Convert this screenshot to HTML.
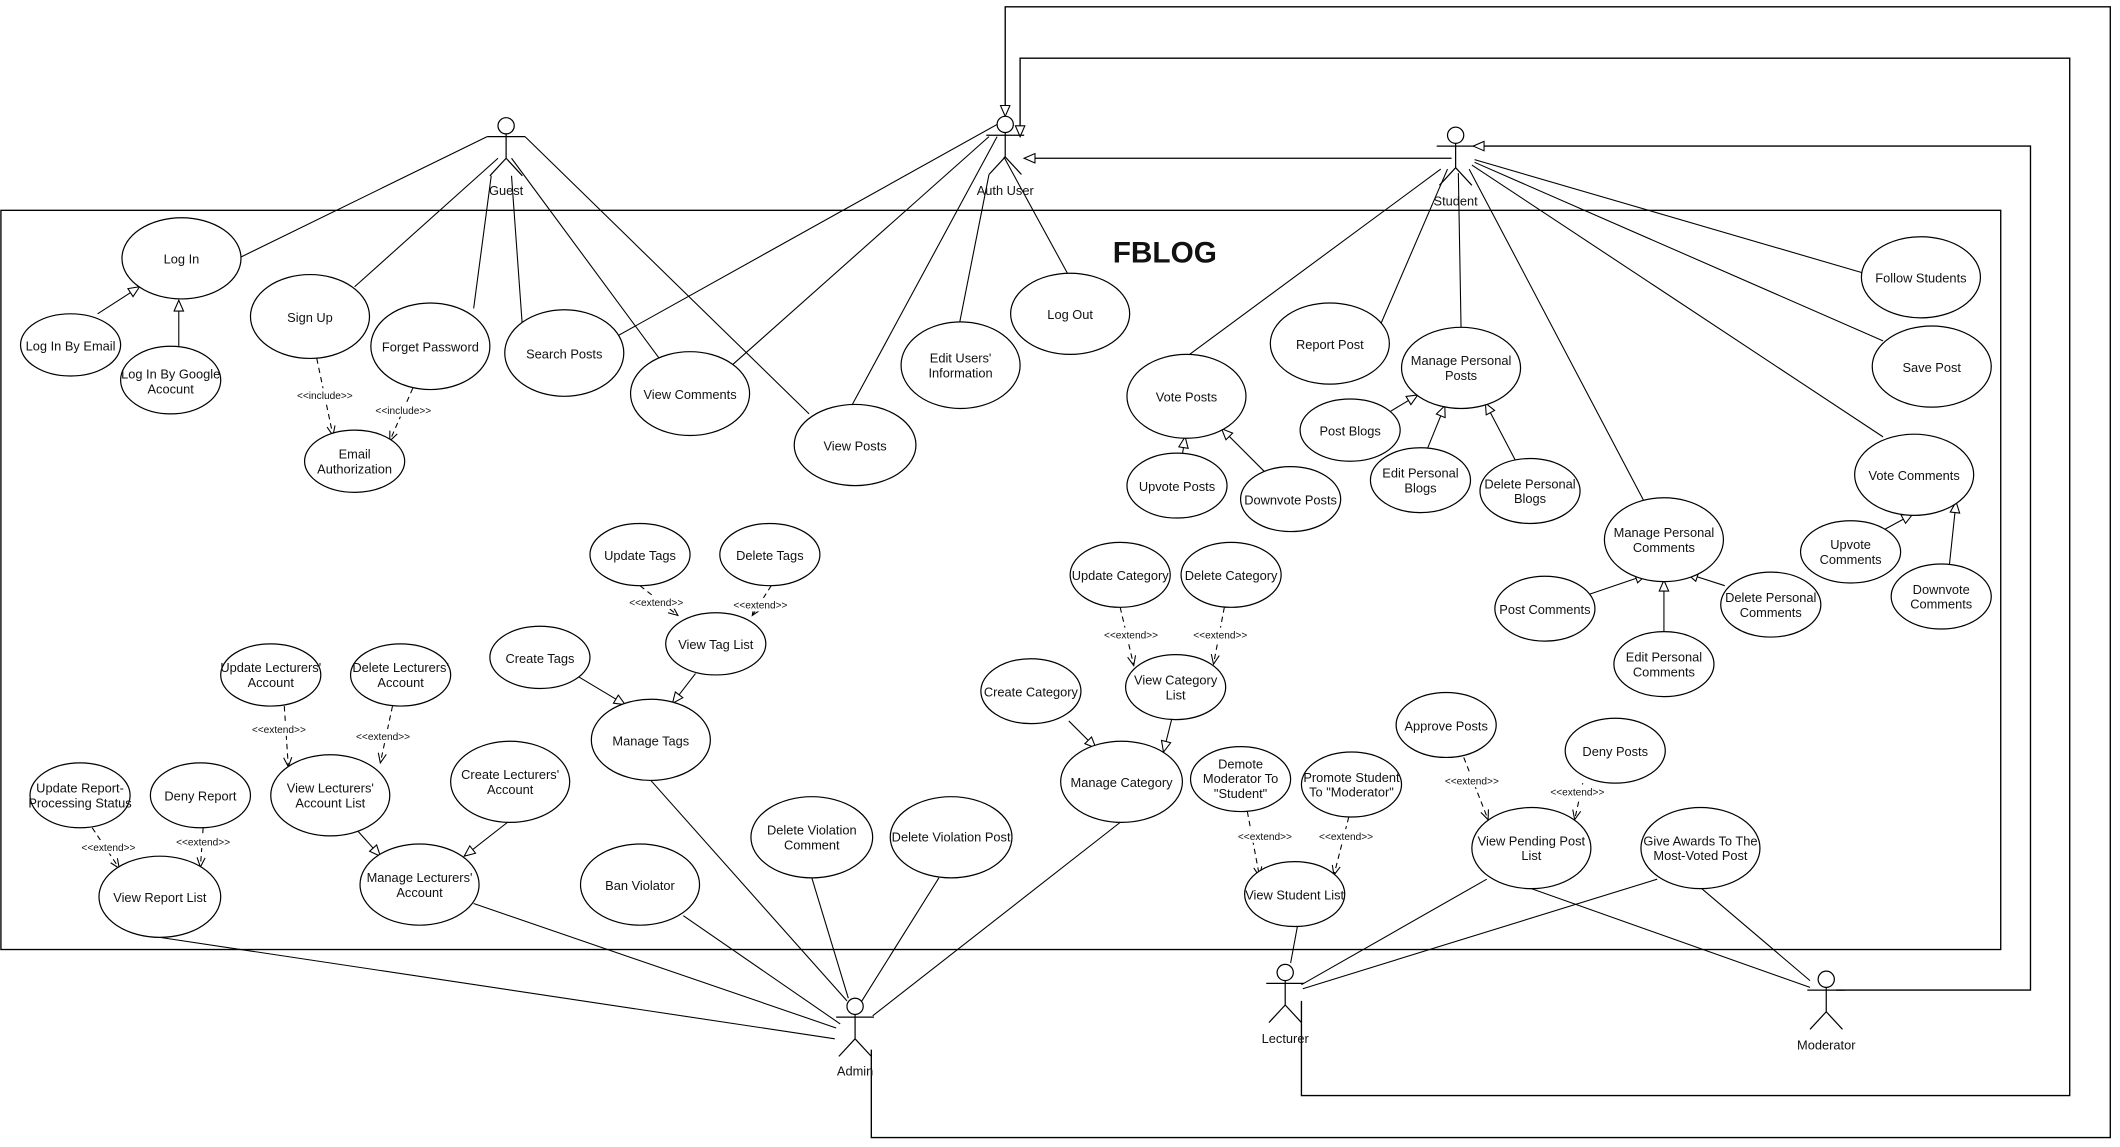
<!DOCTYPE html>
<html><head><meta charset="utf-8"><style>
html,body{margin:0;padding:0;background:#fff;}
svg{display:block;}
text{font-family:"Liberation Sans",sans-serif;font-size:9.5px;fill:#111;text-anchor:middle;}
.s{font-size:7.5px;}
</style></head><body>
<svg width="2120" height="1147" viewBox="0 0 1567 848" xmlns="http://www.w3.org/2000/svg">
<defs>
<marker id="tri" markerWidth="10" markerHeight="10" refX="9" refY="4" orient="auto" markerUnits="userSpaceOnUse"><path d="M1,0.5 L9,4 L1,7.5 Z" fill="#fff" stroke="#000" stroke-width="0.8"/></marker>
<marker id="opn" markerWidth="10" markerHeight="10" refX="8" refY="4" orient="auto" markerUnits="userSpaceOnUse"><path d="M1,1 L8,4 L1,7" fill="none" stroke="#000" stroke-width="0.8"/></marker>
</defs>
<g fill="none" stroke="#000" stroke-width="1">
<rect x="0.5" y="155.5" width="1478.5" height="546.5"/>
<path d="M644,776 V841 H1560 V5 H743 V86" marker-end="url(#tri)"/>
<path d="M962,740 V810 H1530 V43 H754 V101" marker-end="url(#tri)"/>
<path d="M1357,732 H1501 V108 H1089" marker-end="url(#tri)"/>
<path d="M1073,117 H757" marker-end="url(#tri)"/>
</g>
<g fill="none" stroke="#000" stroke-width="0.8">
<line x1="360" y1="101" x2="178" y2="190"/>
<line x1="368" y1="117" x2="262" y2="212"/>
<line x1="363" y1="130" x2="350" y2="228"/>
<line x1="378" y1="130" x2="386" y2="241"/>
<line x1="378" y1="117" x2="488" y2="266"/>
<line x1="388" y1="101" x2="598" y2="306"/>
<line x1="737" y1="92" x2="457" y2="248"/>
<line x1="731" y1="101" x2="541" y2="270"/>
<line x1="737" y1="101" x2="630" y2="299"/>
<line x1="731" y1="129" x2="709" y2="240"/>
<line x1="742" y1="116" x2="789" y2="202"/>
<line x1="1065" y1="125" x2="878" y2="263"/>
<line x1="1070" y1="125" x2="1020" y2="241"/>
<line x1="1078" y1="128" x2="1080" y2="242"/>
<line x1="1086" y1="125" x2="1215" y2="370"/>
<line x1="1088" y1="122" x2="1392" y2="323"/>
<line x1="1090" y1="120" x2="1392" y2="252"/>
<line x1="1090" y1="118" x2="1378" y2="202"/>
<line x1="118" y1="693" x2="617" y2="768"/>
<line x1="350" y1="668" x2="618" y2="760"/>
<line x1="505" y1="677" x2="621" y2="757"/>
<line x1="481" y1="577" x2="626" y2="740"/>
<line x1="600" y1="649" x2="627" y2="738"/>
<line x1="694" y1="649" x2="637" y2="740"/>
<line x1="828" y1="608" x2="645" y2="751"/>
<line x1="959" y1="685" x2="954" y2="712"/>
<line x1="1099" y1="650" x2="962" y2="728"/>
<line x1="1225" y1="650" x2="963" y2="731"/>
<line x1="1132" y1="657" x2="1338" y2="730"/>
<line x1="1258" y1="657" x2="1338" y2="725"/>
<g marker-end="url(#tri)">
<line x1="72" y1="232" x2="103" y2="212"/>
<line x1="132" y1="256" x2="132" y2="222"/>
<line x1="427" y1="500" x2="462" y2="521"/>
<line x1="514" y1="498" x2="497" y2="520"/>
<line x1="264" y1="614" x2="281" y2="633"/>
<line x1="375" y1="608" x2="343" y2="633"/>
<line x1="790" y1="533" x2="810" y2="553"/>
<line x1="866" y1="532" x2="860" y2="556"/>
<line x1="874" y1="336" x2="876" y2="323"/>
<line x1="935" y1="349" x2="903" y2="317"/>
<line x1="1028" y1="304" x2="1048" y2="292"/>
<line x1="1055" y1="332" x2="1068" y2="300"/>
<line x1="1120" y1="340" x2="1098" y2="298"/>
<line x1="1173" y1="440" x2="1217" y2="425"/>
<line x1="1230" y1="467" x2="1230" y2="429"/>
<line x1="1275" y1="433" x2="1247" y2="424"/>
<line x1="1392" y1="392" x2="1414" y2="380"/>
<line x1="1441" y1="418" x2="1446" y2="371"/>
</g>
<g stroke-dasharray="4,3" marker-end="url(#opn)">
<line x1="234" y1="265" x2="246" y2="322"/>
<line x1="305" y1="287" x2="288" y2="326"/>
<line x1="473" y1="433" x2="501" y2="455"/>
<line x1="570" y1="433" x2="556" y2="455"/>
<line x1="210" y1="522" x2="213" y2="567"/>
<line x1="290" y1="522" x2="281" y2="564"/>
<line x1="68" y1="612" x2="88" y2="642"/>
<line x1="150" y1="612" x2="148" y2="641"/>
<line x1="828" y1="449" x2="838" y2="492"/>
<line x1="905" y1="449" x2="897" y2="491"/>
<line x1="922" y1="600" x2="931" y2="648"/>
<line x1="997" y1="604" x2="986" y2="647"/>
<line x1="1082" y1="560" x2="1100" y2="606"/>
<line x1="1170" y1="579" x2="1164" y2="606"/>
</g>
</g>
<g fill="#fff">
<rect x="216" y="287" width="48" height="10"/><rect x="274" y="298" width="48" height="10"/>
<rect x="462" y="440" width="46" height="10"/><rect x="539" y="442" width="46" height="10"/>
<rect x="183" y="534" width="46" height="10"/><rect x="260" y="539" width="46" height="10"/>
<rect x="57" y="621" width="46" height="10"/><rect x="127" y="617" width="46" height="10"/>
<rect x="813" y="464" width="46" height="10"/><rect x="879" y="464" width="46" height="10"/>
<rect x="912" y="613" width="46" height="10"/><rect x="972" y="613" width="46" height="10"/>
<rect x="1065" y="572" width="46" height="10"/><rect x="1143" y="580" width="46" height="10"/>
</g>
<g class="s">
<text class="s" x="240" y="295">&lt;&lt;include&gt;&gt;</text>
<text class="s" x="298" y="306">&lt;&lt;include&gt;&gt;</text>
<text class="s" x="485" y="448">&lt;&lt;extend&gt;&gt;</text>
<text class="s" x="562" y="450">&lt;&lt;extend&gt;&gt;</text>
<text class="s" x="206" y="542">&lt;&lt;extend&gt;&gt;</text>
<text class="s" x="283" y="547">&lt;&lt;extend&gt;&gt;</text>
<text class="s" x="80" y="629">&lt;&lt;extend&gt;&gt;</text>
<text class="s" x="150" y="625">&lt;&lt;extend&gt;&gt;</text>
<text class="s" x="836" y="472">&lt;&lt;extend&gt;&gt;</text>
<text class="s" x="902" y="472">&lt;&lt;extend&gt;&gt;</text>
<text class="s" x="935" y="621">&lt;&lt;extend&gt;&gt;</text>
<text class="s" x="995" y="621">&lt;&lt;extend&gt;&gt;</text>
<text class="s" x="1088" y="580">&lt;&lt;extend&gt;&gt;</text>
<text class="s" x="1166" y="588">&lt;&lt;extend&gt;&gt;</text>
</g>
<g fill="#fff" stroke="#000" stroke-width="0.9">
<ellipse cx="134" cy="191" rx="44" ry="30"/>
<ellipse cx="52" cy="255" rx="37" ry="23"/>
<ellipse cx="126" cy="281" rx="37" ry="25"/>
<ellipse cx="229" cy="234" rx="44" ry="31"/>
<ellipse cx="318" cy="256" rx="44" ry="32"/>
<ellipse cx="262" cy="341" rx="37" ry="23"/>
<ellipse cx="417" cy="261" rx="44" ry="32"/>
<ellipse cx="510" cy="291" rx="44" ry="31"/>
<ellipse cx="632" cy="329" rx="45" ry="30"/>
<ellipse cx="710" cy="270" rx="44" ry="32"/>
<ellipse cx="791" cy="232" rx="44" ry="30"/>
<ellipse cx="877" cy="293" rx="44" ry="31"/>
<ellipse cx="870" cy="359" rx="37" ry="24"/>
<ellipse cx="954" cy="369" rx="37" ry="24"/>
<ellipse cx="983" cy="254" rx="44" ry="30"/>
<ellipse cx="1080" cy="272" rx="44" ry="30"/>
<ellipse cx="998" cy="318" rx="37" ry="23"/>
<ellipse cx="1050" cy="355" rx="37" ry="24"/>
<ellipse cx="1131" cy="363" rx="37" ry="24"/>
<ellipse cx="1230" cy="399" rx="44" ry="31"/>
<ellipse cx="1142" cy="450" rx="37" ry="24"/>
<ellipse cx="1230" cy="491" rx="37" ry="24"/>
<ellipse cx="1309" cy="447" rx="37" ry="24"/>
<ellipse cx="1420" cy="205" rx="44" ry="30"/>
<ellipse cx="1428" cy="271" rx="44" ry="30"/>
<ellipse cx="1415" cy="351" rx="44" ry="30"/>
<ellipse cx="1368" cy="408" rx="37" ry="23"/>
<ellipse cx="1435" cy="441" rx="37" ry="24"/>
<ellipse cx="473" cy="410" rx="37" ry="23"/>
<ellipse cx="569" cy="410" rx="37" ry="23"/>
<ellipse cx="529" cy="476" rx="37" ry="23"/>
<ellipse cx="399" cy="486" rx="37" ry="23"/>
<ellipse cx="481" cy="547" rx="44" ry="30"/>
<ellipse cx="200" cy="499" rx="37" ry="23"/>
<ellipse cx="296" cy="499" rx="37" ry="23"/>
<ellipse cx="244" cy="588" rx="44" ry="30"/>
<ellipse cx="377" cy="578" rx="44" ry="30"/>
<ellipse cx="310" cy="654" rx="44" ry="30"/>
<ellipse cx="59" cy="588" rx="37" ry="24"/>
<ellipse cx="148" cy="588" rx="37" ry="24"/>
<ellipse cx="118" cy="663" rx="45" ry="30"/>
<ellipse cx="473" cy="654" rx="44" ry="30"/>
<ellipse cx="600" cy="619" rx="45" ry="30"/>
<ellipse cx="703" cy="619" rx="45" ry="30"/>
<ellipse cx="828" cy="425" rx="37" ry="24"/>
<ellipse cx="910" cy="425" rx="37" ry="24"/>
<ellipse cx="869" cy="508" rx="37" ry="24"/>
<ellipse cx="762" cy="511" rx="37" ry="24"/>
<ellipse cx="829" cy="578" rx="45" ry="30"/>
<ellipse cx="917" cy="576" rx="37" ry="24"/>
<ellipse cx="999" cy="580" rx="37" ry="24"/>
<ellipse cx="957" cy="661" rx="37" ry="24"/>
<ellipse cx="1069" cy="536" rx="37" ry="24"/>
<ellipse cx="1194" cy="555" rx="37" ry="24"/>
<ellipse cx="1132" cy="627" rx="44" ry="30"/>
<ellipse cx="1257" cy="627" rx="44" ry="30"/>
</g>
<g>
<text x="134" y="195">Log In</text>
<text x="52" y="259">Log In By Email</text>
<text x="126" y="280">Log In By Google</text><text x="126" y="291">Acocunt</text>
<text x="229" y="238">Sign Up</text>
<text x="318" y="260">Forget Password</text>
<text x="262" y="339">Email</text><text x="262" y="350">Authorization</text>
<text x="417" y="265">Search Posts</text>
<text x="510" y="295">View Comments</text>
<text x="632" y="333">View Posts</text>
<text x="710" y="268">Edit Users'</text><text x="710" y="279">Information</text>
<text x="791" y="236">Log Out</text>
<text x="877" y="297">Vote Posts</text>
<text x="870" y="363">Upvote Posts</text>
<text x="954" y="373">Downvote Posts</text>
<text x="983" y="258">Report Post</text>
<text x="1080" y="270">Manage Personal</text><text x="1080" y="281">Posts</text>
<text x="998" y="322">Post Blogs</text>
<text x="1050" y="353">Edit Personal</text><text x="1050" y="364">Blogs</text>
<text x="1131" y="361">Delete Personal</text><text x="1131" y="372">Blogs</text>
<text x="1230" y="397">Manage Personal</text><text x="1230" y="408">Comments</text>
<text x="1142" y="454">Post Comments</text>
<text x="1230" y="489">Edit Personal</text><text x="1230" y="500">Comments</text>
<text x="1309" y="445">Delete Personal</text><text x="1309" y="456">Comments</text>
<text x="1420" y="209">Follow Students</text>
<text x="1428" y="275">Save Post</text>
<text x="1415" y="355">Vote Comments</text>
<text x="1368" y="406">Upvote</text><text x="1368" y="417">Comments</text>
<text x="1435" y="439">Downvote</text><text x="1435" y="450">Comments</text>
<text x="473" y="414">Update Tags</text>
<text x="569" y="414">Delete Tags</text>
<text x="529" y="480">View Tag List</text>
<text x="399" y="490">Create Tags</text>
<text x="481" y="551">Manage Tags</text>
<text x="200" y="497">Update Lecturers'</text><text x="200" y="508">Account</text>
<text x="296" y="497">Delete Lecturers'</text><text x="296" y="508">Account</text>
<text x="244" y="586">View Lecturers'</text><text x="244" y="597">Account List</text>
<text x="377" y="576">Create Lecturers'</text><text x="377" y="587">Account</text>
<text x="310" y="652">Manage Lecturers'</text><text x="310" y="663">Account</text>
<text x="59" y="586">Update Report-</text><text x="59" y="597">Processing Status</text>
<text x="148" y="592">Deny Report</text>
<text x="118" y="667">View Report List</text>
<text x="473" y="658">Ban Violator</text>
<text x="600" y="617">Delete Violation</text><text x="600" y="628">Comment</text>
<text x="703" y="622">Delete Violation Post</text>
<text x="828" y="429">Update Category</text>
<text x="910" y="429">Delete Category</text>
<text x="869" y="506">View Category</text><text x="869" y="517">List</text>
<text x="762" y="515">Create Category</text>
<text x="829" y="582">Manage Category</text>
<text x="917" y="568">Demote</text><text x="917" y="579">Moderator To</text><text x="917" y="590">"Student"</text>
<text x="999" y="578">Promote Student</text><text x="999" y="589">To "Moderator"</text>
<text x="957" y="665">View Student List</text>
<text x="1069" y="540">Approve Posts</text>
<text x="1194" y="559">Deny Posts</text>
<text x="1132" y="625">View Pending Post</text><text x="1132" y="636">List</text>
<text x="1257" y="625">Give Awards To The</text><text x="1257" y="636">Most-Voted Post</text>
</g>
<text x="861" y="194" style="font-size:22px;font-weight:bold;">FBLOG</text>
<g fill="#fff" stroke="#000" stroke-width="0.9">
<g transform="translate(374,93)"><circle cx="0" cy="0" r="6"/><path d="M0,6 V24 M-14,8 H14 M0,24 L-12,37 M0,24 L12,37" fill="none"/></g>
<g transform="translate(743,92)"><circle cx="0" cy="0" r="6"/><path d="M0,6 V24 M-14,8 H14 M0,24 L-12,37 M0,24 L12,37" fill="none"/></g>
<g transform="translate(1076,100)"><circle cx="0" cy="0" r="6"/><path d="M0,6 V24 M-14,8 H14 M0,24 L-12,37 M0,24 L12,37" fill="none"/></g>
<g transform="translate(632,744)"><circle cx="0" cy="0" r="6"/><path d="M0,6 V24 M-14,8 H14 M0,24 L-12,37 M0,24 L12,37" fill="none"/></g>
<g transform="translate(950,719)"><circle cx="0" cy="0" r="6"/><path d="M0,6 V24 M-14,8 H14 M0,24 L-12,37 M0,24 L12,37" fill="none"/></g>
<g transform="translate(1350,724)"><circle cx="0" cy="0" r="6"/><path d="M0,6 V24 M-14,8 H14 M0,24 L-12,37 M0,24 L12,37" fill="none"/></g>
</g>
<text x="374" y="144">Guest</text>
<text x="743" y="144">Auth User</text>
<text x="1076" y="152">Student</text>
<text x="632" y="795">Admin</text>
<text x="950" y="771">Lecturer</text>
<text x="1350" y="776">Moderator</text>
</svg>
</body></html>
